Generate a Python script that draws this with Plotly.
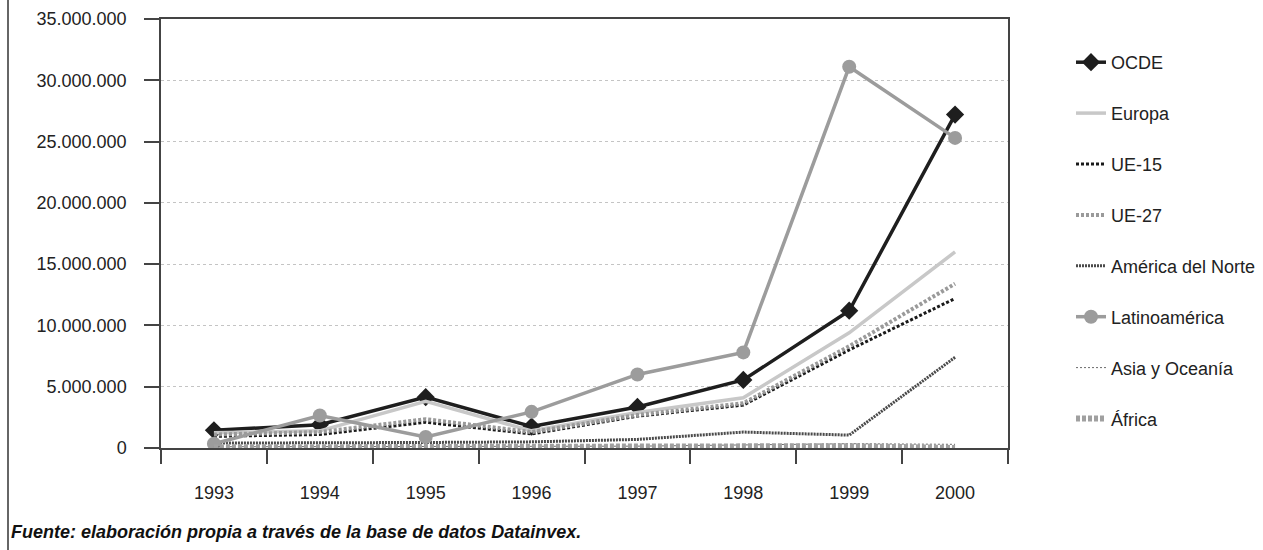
import plotly.graph_objects as go

# Inversión por zona de destino (euros), 1993-2000
years = ["1993", "1994", "1995", "1996", "1997", "1998", "1999", "2000"]

ocde = [1450000, 1900000, 4150000, 1750000, 3350000, 5550000, 11200000, 27200000]
europa = [1250000, 1400000, 3800000, 1400000, 2900000, 4100000, 9400000, 16000000]
ue15 = [950000, 1100000, 2100000, 1150000, 2600000, 3500000, 8000000, 12200000]
ue27 = [1100000, 1300000, 2350000, 1300000, 2700000, 3650000, 8300000, 13400000]
america_norte = [400000, 400000, 450000, 500000, 700000, 1300000, 1050000, 7400000]
latinoamerica = [350000, 2650000, 900000, 2950000, 6000000, 7800000, 31100000, 25300000]
asia_oceania = [100000, 100000, 120000, 150000, 150000, 250000, 350000, 300000]
africa = [50000, 50000, 50000, 50000, 60000, 100000, 150000, 0]

FONT = "Liberation Sans, Arial, sans-serif"

# Canvas and plot-area geometry (pixels)
W, H = 1263, 550
L, R, T, B = 161, 1008, 19, 448
pw, ph = R - L, B - T

series = [
    ("OCDE", ocde, dict(color="#1e1e1e", width=3.5),
     dict(symbol="diamond", size=14, color="#1e1e1e")),
    ("Europa", europa, dict(color="#c8c8c8", width=3.5), None),
    ("UE-15", ue15, dict(color="#1a1a1a", width=3, dash="3px,2px"), None),
    ("UE-27", ue27, dict(color="#9a9a9a", width=4, dash="3px,2px"), None),
    ("América del Norte", america_norte, dict(color="#4a4a4a", width=3, dash="2px,1px"), None),
    ("Latinoamérica", latinoamerica, dict(color="#9c9c9c", width=3.5),
     dict(symbol="circle", size=14, color="#9c9c9c")),
    ("Asia y Oceanía", asia_oceania, dict(color="#6a6a6a", width=1, dash="2px,2px"), None),
    ("África", africa, dict(color="#a0a0a0", width=6, dash="4px,2px"), None),
]

fig = go.Figure()
for i, (name, vals, line, marker) in enumerate(series):
    fig.add_trace(go.Scatter(
        x=years, y=vals, name=name,
        mode="lines+markers" if marker else "lines",
        line=line, marker=marker,
        legendgroup=f"g{i}",
    ))

fig.update_layout(
    width=W, height=H,
    margin=dict(l=L, r=W - R, t=T, b=H - B, pad=0, autoexpand=False),
    paper_bgcolor="white", plot_bgcolor="white",
    separators=",.",
    font=dict(family=FONT, size=18, color="#222222"),
    showlegend=True,
    legend=dict(
        x=(1071 - L) / pw, y=(B - 44) / ph, xanchor="left", yanchor="top",
        font=dict(family=FONT, size=18, color="#222222"),
        tracegroupgap=24.5, itemwidth=30, bgcolor="rgba(0,0,0,0)",
    ),
    xaxis=dict(
        type="category", range=[-0.5, 7.5],
        showline=True, linecolor="#444444", linewidth=1.5, mirror=True,
        ticks="outside", tickson="boundaries", ticklen=14, tickcolor="#444444",
        tickwidth=1.5, showgrid=False, tickfont=dict(size=18), ticklabelstandoff=28,
    ),
    yaxis=dict(
        range=[0, 35000000], dtick=5000000, tickformat=",d",
        showline=True, linecolor="#444444", linewidth=1.5, mirror=True,
        ticks="outside", ticklen=15, tickcolor="#444444", tickwidth=1.5,
        showgrid=True, gridcolor="#c4c4c4", gridwidth=1, griddash="dot",
        zeroline=False, tickfont=dict(size=18), ticklabelstandoff=14,
    ),
    shapes=[
        # outer frame line on the left edge
        dict(type="line", xref="paper", yref="paper",
             x0=(8 - L) / pw, x1=(8 - L) / pw,
             y0=(B - H) / ph, y1=(B + 0) / ph,
             line=dict(color="#333333", width=1.5)),
    ],
    annotations=[
        dict(text="<b><i>Fuente: elaboración propia a través de la base de datos Datainvex.</i></b>",
             xref="paper", yref="paper", x=(9 - L) / pw, y=(B - 532) / ph,
             xanchor="left", yanchor="middle", showarrow=False,
             font=dict(family=FONT, size=18, color="#111111")),
    ],
)

fig.write_html("out.html")
